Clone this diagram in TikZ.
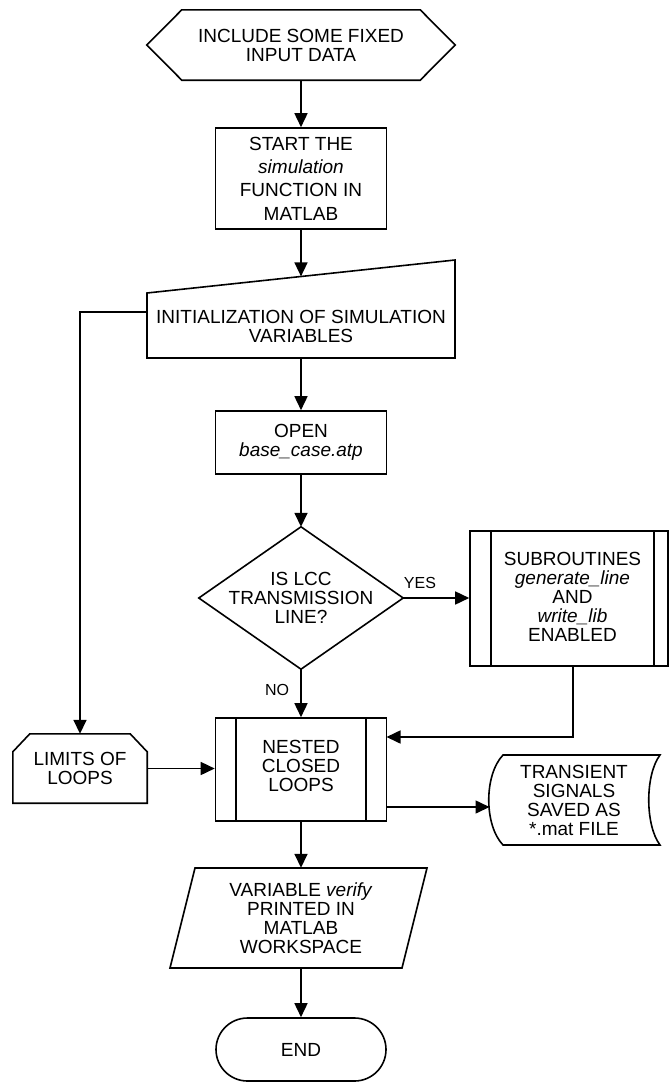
\documentclass[tikz,border=0pt]{standalone}
\usepackage{fontspec}
\setmainfont{Liberation Sans}
\usetikzlibrary{arrows.meta,calc}
\begin{document}
\begin{tikzpicture}[x=1pt,y=-1pt,
  every node/.style={font=\fontsize{19}{19}\selectfont, align=center, inner sep=0pt},
  outline/.style={draw, line width=1.6pt, line join=miter},
  arr/.style={-{Triangle[length=14pt,width=13pt]}, line width=1.6pt},
  plainbox/.style={draw, rectangle, line width=1.6pt},
  lbl/.style={font=\fontsize{16}{16}\selectfont}
]
\useasboundingbox (0,0) rectangle (669,1084);

% --- hexagon: preparation
\node[minimum width=308pt, minimum height=70pt] (inc) at (301,45) {INCLUDE SOME FIXED\\INPUT DATA};
\draw[outline] (inc.west) -- ($(inc.north west)+(35,0)$) -- ($(inc.north east)+(-35,0)$)
  -- (inc.east) -- ($(inc.south east)+(-35,0)$) -- ($(inc.south west)+(35,0)$) -- cycle;

% --- process box
\node[plainbox, minimum width=171pt, minimum height=101pt, font=\fontsize{19}{23.3}\selectfont]
  (start) at (301,178.5) {START THE\\\textit{simulation}\\FUNCTION IN\\MATLAB};

% --- manual input
\draw[outline] (147,293) -- (455,260) -- (455,358) -- (147,358) -- cycle;
\node (init) at (301,326) {INITIALIZATION OF SIMULATION\\VARIABLES};
\coordinate (init-n) at (301,276.4);
\coordinate (init-s) at (301,358);
\coordinate (init-w) at (147,312);

% --- open
\node[plainbox, minimum width=171pt, minimum height=63pt] (open) at (301,442.5) {OPEN\\\textit{base\_case.atp}};

% --- decision
\node[minimum width=204pt, minimum height=142pt] (dec) at (301,598) {IS LCC\\TRANSMISSION\\LINE?};
\draw[outline] (dec.north) -- (dec.east) -- (dec.south) -- (dec.west) -- cycle;

% --- subroutine (predefined process)
\node[plainbox, minimum width=198pt, minimum height=135pt] (sub) at (569,598.5) {};
\draw[line width=1.6pt] (491,531) -- (491,666) (654,531) -- (654,666);
\node (subt) at (572.5,597) {SUBROUTINES\\\textit{generate\_line}\\AND\\\textit{write\_lib}\\ENABLED};
\coordinate (sub-s) at (573,666);

% --- nested loops (predefined process)
\node[plainbox, minimum width=171pt, minimum height=103pt] (nested) at (301,769.5) {};
\draw[line width=1.6pt] (236,718) -- (236,821) (366,718) -- (366,821);
\node (nestedt) at (301,766) {NESTED\\CLOSED\\LOOPS};
\coordinate (nested-e1) at (386.5,737);
\coordinate (nested-e2) at (386.5,807);

% --- loop limit
\node[minimum width=134pt, minimum height=69pt] (lim) at (80,768.5) {LIMITS OF\\LOOPS};
\draw[outline] ($(lim.north west)+(17,0)$) -- ($(lim.north east)+(-17,0)$) -- ($(lim.north east)+(0,18)$)
  -- (lim.south east) -- (lim.south west) -- ($(lim.north west)+(0,18)$) -- cycle;

% --- stored data
\draw[outline] (503,755) -- (660,755) .. controls (645,775) and (645,825) .. (660,845)
  -- (503,845) .. controls (484,825) and (484,775) .. (503,755) -- cycle;
\node (trans) at (574,800) {TRANSIENT\\SIGNALS\\SAVED AS\\*.mat FILE};
\coordinate (trans-w) at (489.5,807);

% --- output (parallelogram)
\draw[outline] (195,868) -- (427,868) -- (402,968) -- (170,968) -- cycle;
\node[minimum height=100pt] (out) at (301,918) {VARIABLE \textit{verify}\\PRINTED IN\\MATLAB\\WORKSPACE};

% --- terminator
\node[draw, line width=1.6pt, rounded corners=31.5pt, minimum width=170pt, minimum height=63pt] (end) at (301,1049.5) {END};

% --- connectors
\draw[arr] (inc.south) -- (start.north);
\draw[arr] (start.south) -- (init-n);
\draw[arr] (init-s) -- (open.north);
\draw[arr] (open.south) -- (dec.north);
\draw[arr] (dec.east) -- (dec.east -| sub.west);
\node[lbl] (yes) at (420,583) {YES};
\draw[arr] (dec.south) -- (nested.north);
\node[lbl] (no) at (277,690) {NO};
\draw[arr] (sub-s) |- (nested-e1);
\draw[arr] (init-w) -| (lim.north);
\draw[arr] (lim.east) -- (lim.east -| nested.west);
\draw[arr] (nested-e2) -- (trans-w);
\draw[arr] (nested.south) -- (out.north);
\draw[arr] (out.south) -- (end.north);
\end{tikzpicture}
\end{document}
